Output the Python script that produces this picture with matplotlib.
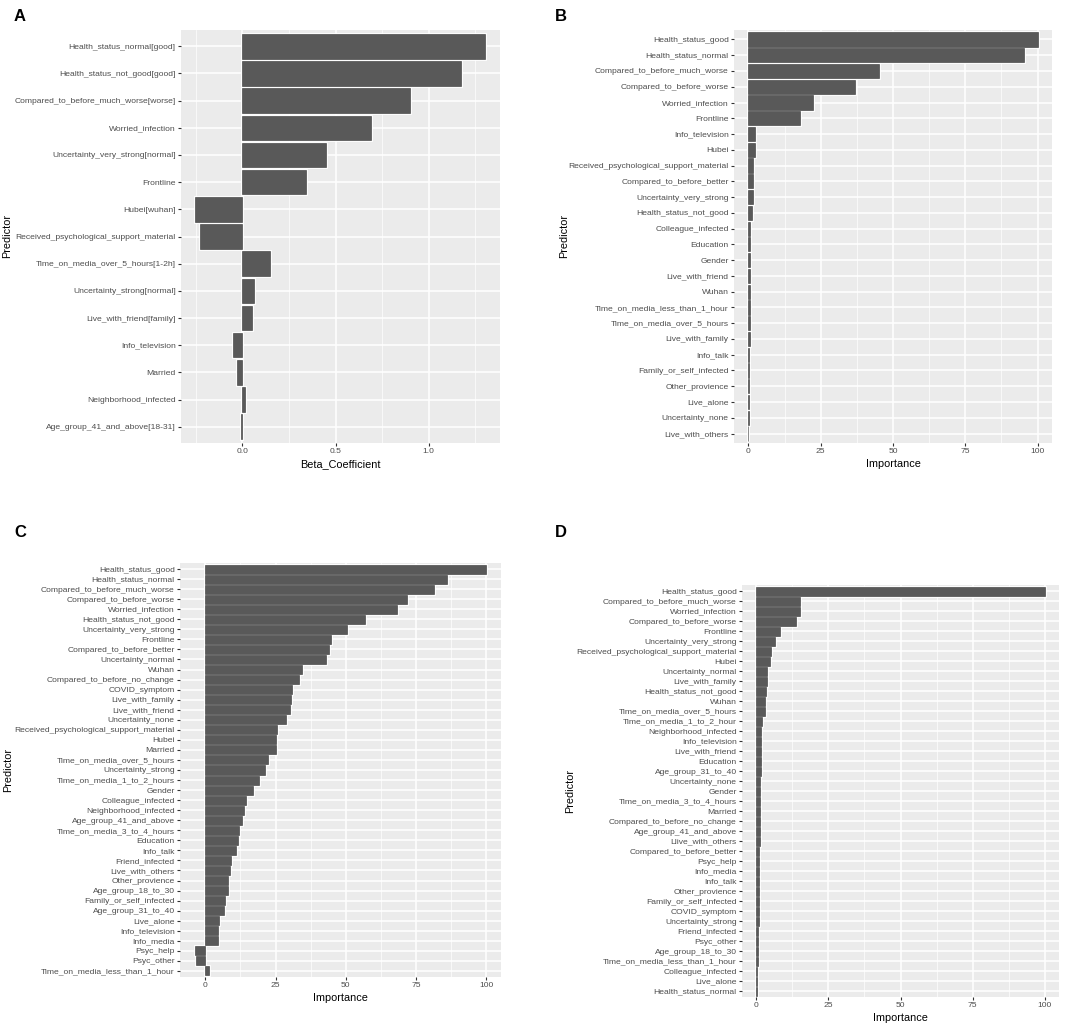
import matplotlib
matplotlib.use('Agg')
import matplotlib.pyplot as plt
from matplotlib.ticker import MultipleLocator, FormatStrFormatter

plt.rcParams['font.family'] = ['Liberation Sans', 'DejaVu Sans']

# panel A : beta coefficients
a_labels = ['Health_status_normal[good]', 'Health_status_not_good[good]',
            'Compared_to_before_much_worse[worse]', 'Worried_infection',
            'Uncertainty_very_strong[normal]', 'Frontline', 'Hubei[wuhan]',
            'Received_psychological_support_material', 'Time_on_media_over_5_hours[1-2h]',
            'Uncertainty_strong[normal]', 'Live_with_friend[family]', 'Info_television',
            'Married', 'Neighborhood_infected', 'Age_group_41_and_above[18-31]']
a_values = [1.305, 1.173, 0.902, 0.688, 0.448, 0.341, -0.252, -0.230, 0.148,
            0.063, 0.054, -0.048, -0.030, 0.013, -0.009]

# panel B : importance
b_labels = ['Health_status_good', 'Health_status_normal', 'Compared_to_before_much_worse',
            'Compared_to_before_worse', 'Worried_infection', 'Frontline', 'Info_television',
            'Hubei', 'Received_psychological_support_material', 'Compared_to_before_better',
            'Uncertainty_very_strong', 'Health_status_not_good', 'Colleague_infected',
            'Education', 'Gender', 'Live_with_friend', 'Wuhan', 'Time_on_media_less_than_1_hour',
            'Time_on_media_over_5_hours', 'Live_with_family', 'Info_talk',
            'Family_or_self_infected', 'Other_provience', 'Live_alone', 'Uncertainty_none',
            'Live_with_others']
b_values = [100, 95.4, 45.0, 36.7, 22.3, 18.0, 2.3, 2.3, 1.7, 1.7, 1.4, 1.2, 0.7,
            0.5, 0.5, 0.5, 0.5, 0.5, 0.4, 0.4, 0.35, 0.3, 0.1, 0.05, 0.02, 0.0]

# panel C : importance
c_labels = ['Health_status_good', 'Health_status_normal', 'Compared_to_before_much_worse',
            'Compared_to_before_worse', 'Worried_infection', 'Health_status_not_good',
            'Uncertainty_very_strong', 'Frontline', 'Compared_to_before_better',
            'Uncertainty_normal', 'Wuhan', 'Compared_to_before_no_change', 'COVID_symptom',
            'Live_with_family', 'Live_with_friend', 'Uncertainty_none',
            'Received_psychological_support_material', 'Hubei', 'Married',
            'Time_on_media_over_5_hours', 'Uncertainty_strong', 'Time_on_media_1_to_2_hours',
            'Gender', 'Colleague_infected', 'Neighborhood_infected', 'Age_group_41_and_above',
            'Time_on_media_3_to_4_hours', 'Education', 'Info_talk', 'Friend_infected',
            'Live_with_others', 'Other_provience', 'Age_group_18_to_30',
            'Family_or_self_infected', 'Age_group_31_to_40', 'Live_alone', 'Info_television',
            'Info_media', 'Psyc_help', 'Psyc_other', 'Time_on_media_less_than_1_hour']
c_values = [100, 85.9, 81.4, 71.9, 68.2, 56.8, 50.5, 44.6, 44.0, 42.8, 34.5, 33.5,
            31.0, 30.6, 30.1, 28.7, 25.6, 25.1, 25.1, 22.3, 21.1, 19.2, 17.0, 14.6,
            13.6, 13.0, 12.0, 11.5, 11.0, 9.1, 8.7, 8.2, 8.2, 7.1, 6.6, 5.0, 4.7, 4.7,
            -3.8, -3.3, 1.4]

# panel D : importance
d_labels = ['Health_status_good', 'Compared_to_before_much_worse', 'Worried_infection',
            'Compared_to_before_worse', 'Frontline', 'Uncertainty_very_strong',
            'Received_psychological_support_material', 'Hubei', 'Uncertainty_normal',
            'Live_with_family', 'Health_status_not_good', 'Wuhan',
            'Time_on_media_over_5_hours', 'Time_on_media_1_to_2_hour',
            'Neighborhood_infected', 'Info_television', 'Live_with_friend', 'Education',
            'Age_group_31_to_40', 'Uncertainty_none', 'Gender', 'Time_on_media_3_to_4_hours',
            'Married', 'Compared_to_before_no_change', 'Age_group_41_and_above',
            'Llive_with_others', 'Compared_to_before_better', 'Psyc_help', 'Info_media',
            'Info_talk', 'Other_provience', 'Family_or_self_infected', 'COVID_symptom',
            'Uncertainty_strong', 'Friend_infected', 'Psyc_other', 'Age_group_18_to_30',
            'Time_on_media_less_than_1_hour', 'Colleague_infected', 'Live_alone',
            'Health_status_normal']
d_values = [100, 15.2, 15.0, 13.8, 8.1, 6.4, 5.1, 4.6, 3.6, 3.6, 3.2, 3.1, 3.1, 2.1,
            1.7, 1.7, 1.5, 1.5, 1.5, 1.3, 1.15, 1.15, 1.1, 1.1, 1.1, 1.1, 0.95, 0.9,
            0.85, 0.85, 0.8, 0.8, 0.8, 0.8, 0.6, 0.55, 0.5, 0.5, 0.35, 0.3, 0.1]

W, H = 1084, 1028


def panel(fig, box, labels, values, xlabel, major, letter, letter_xy, ylab_x):
    x0, y0, x1, y1 = box
    ax = fig.add_axes([x0 / W, 1 - y1 / H, (x1 - x0) / W, (y1 - y0) / H])
    ax.set_facecolor('#EBEBEB')
    n = len(labels)
    pos = list(range(n))
    # white halo first, then the dark bar on top
    ax.barh(pos, values, height=0.9, color='white', edgecolor='white', linewidth=2.0, zorder=3)
    ax.barh(pos, values, height=0.9, color='#595959', edgecolor='#333333', linewidth=0.4, zorder=4)
    lo, hi = min(0, min(values)), max(0, max(values))
    pad = (hi - lo) * 0.05
    ax.set_xlim(lo - pad, hi + pad)
    ax.set_ylim(n - 1 + 0.6, -0.6)
    ax.set_yticks(pos)
    ax.set_yticklabels(labels)
    ax.xaxis.set_major_locator(MultipleLocator(major))
    ax.xaxis.set_minor_locator(MultipleLocator(major / 2))
    ax.grid(True, which='major', color='white', linewidth=1.1, zorder=0)
    ax.grid(True, which='minor', axis='x', color='white', linewidth=0.5, zorder=0)
    ax.set_axisbelow(True)
    for s in ax.spines.values():
        s.set_visible(False)
    ax.tick_params(axis='both', which='major', length=2.3, width=0.8, color='#333333',
                   labelsize=6.1, labelcolor='#4D4D4D', pad=1.5)
    ax.tick_params(axis='x', which='minor', length=0)
    ax.set_xlabel(xlabel, fontsize=7.8, labelpad=3)
    ax.set_ylabel('Predictor', fontsize=7.8)
    # ylabel anchor is the right side of the rotated text
    ax.yaxis.set_label_coords((ylab_x - x0) / (x1 - x0), 0.5)
    fig.text(letter_xy[0] / W, 1 - letter_xy[1] / H, letter, fontsize=12,
             fontweight='bold', va='top', ha='left')
    return ax


fig = plt.figure(figsize=(W / 100, H / 100), dpi=100)

ax_a = panel(fig, (181, 30, 500, 443), a_labels, a_values, 'Beta_Coefficient', 0.5,
             'A', (14, 9), 12)
ax_a.xaxis.set_major_formatter(FormatStrFormatter('%.1f'))
ax_b = panel(fig, (734, 30, 1052, 443), b_labels, b_values, 'Importance', 25,
             'B', (555, 9), 569)
ax_c = panel(fig, (180, 563, 501, 977), c_labels, c_values, 'Importance', 25,
             'C', (14, 525), 13)
ax_d = panel(fig, (742, 585, 1059, 997), d_labels, d_values, 'Importance', 25,
             'D', (555, 525), 575)

for ax in (ax_b, ax_c, ax_d):
    ax.xaxis.set_major_formatter(FormatStrFormatter('%d'))

fig.savefig('out.png', dpi=100, facecolor='white')
